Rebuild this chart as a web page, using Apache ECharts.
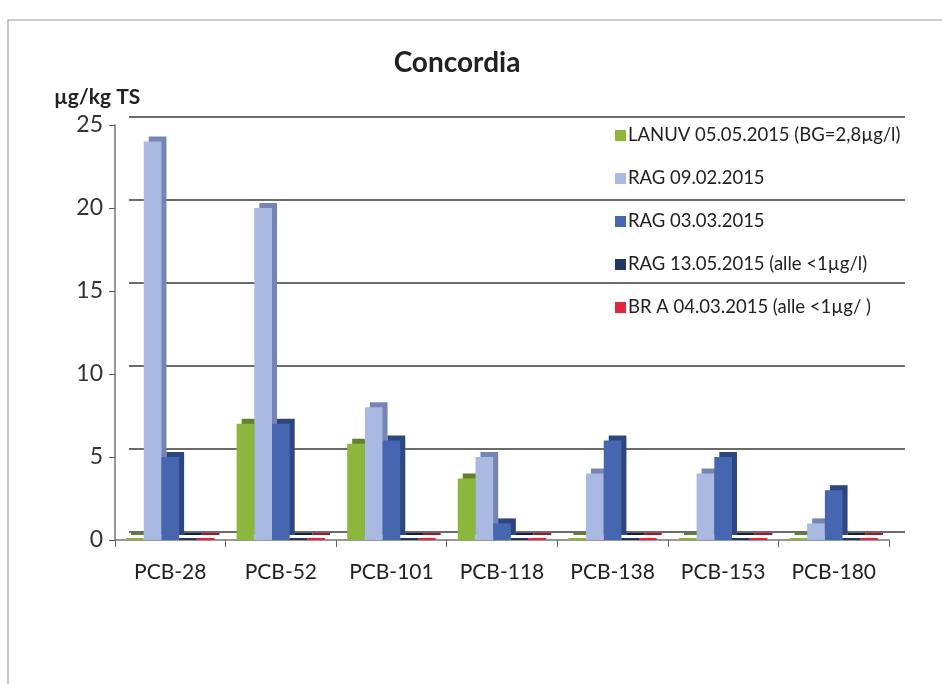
<!DOCTYPE html>
<html>
<head>
<meta charset="utf-8">
<title>Concordia</title>
<script src="https://cdn.jsdelivr.net/npm/echarts@6/dist/echarts.min.js"></script>
<style>
  html, body { margin: 0; padding: 0; background: #fff; }
  #chart { width: 942px; height: 684px; }
</style>
</head>
<body>
<div id="chart"></div>
<script>
// categories and values (µg/kg TS)
const categories = ['PCB-28', 'PCB-52', 'PCB-101', 'PCB-118', 'PCB-138', 'PCB-153', 'PCB-180'];
const seriesNames = [
  'LANUV 05.05.2015 (BG=2,8µg/l)',
  'RAG 09.02.2015',
  'RAG 03.03.2015',
  'RAG 13.05.2015 (alle <1µg/l)',
  'BR A 04.03.2015 (alle <1µg/ )'
];
const lanuv = [0, 7, 5.8, 3.7, 0, 0, 0];
const rag0902 = [24, 20, 8, 5, 4, 4, 1];
const rag0303 = [5, 7, 6, 1, 6, 5, 3];
const rag1305 = [0, 0, 0, 0, 0, 0, 0];
const brA = [0, 0, 0, 0, 0, 0, 0];
const yTicks = [0, 5, 10, 15, 20, 25];

const colors = ['#8cb63c', '#a9b9e2', '#4766b0', '#22375e', '#e0283c'];
const sideColors = ['#62822a', '#7585b3', '#2e4680', '#121f38', '#a0182a'];
const values = [lanuv, rag0902, rag0303, rag1305, brA];

const chart = echarts.init(document.getElementById('chart'));
chart.setOption({
  animation: false,
  textStyle: { fontFamily: 'Lato' },
  title: {
    text: 'Concordia',
    left: 452,
    top: 44,
    textAlign: 'center',
    textStyle: { fontSize: 28, fontWeight: 'bold', color: '#222', fontFamily: 'Lato' }
  },
  graphic: [
    {
      type: 'rect',
      shape: { x: 8, y: 20, width: 960, height: 700 },
      style: { fill: 'none', stroke: '#9a9a9a', lineWidth: 1.2 },
      z: -10
    },
    {
      type: 'text',
      left: 54,
      top: 87,
      style: { text: 'µg/kg TS', font: 'bold 21px Lato', fill: '#222' }
    }
  ],
  legend: {
    orient: 'vertical',
    left: 610,
    top: 121,
    itemWidth: 11,
    itemHeight: 11,
    itemGap: 24,
    icon: 'rect',
    data: seriesNames,
    textStyle: { fontSize: 18.5, color: '#222', fontFamily: 'Lato', padding: [0, 0, 0, -3] }
  },
  grid: [
    { left: 115, right: 53, top: 125, bottom: 144 },
    { left: 129, right: 37, top: 117, bottom: 152 }
  ],
  xAxis: [
    {
      type: 'category',
      gridIndex: 0,
      data: categories,
      axisLine: { lineStyle: { color: '#777', width: 1.5 } },
      axisTick: { show: true, length: 7, interval: 0, lineStyle: { color: '#666' } },
      axisLabel: { fontSize: 21, color: '#222', margin: 22, interval: 0 }
    },
    {
      type: 'category',
      gridIndex: 1,
      data: categories,
      show: false
    }
  ],
  yAxis: [
    {
      type: 'value',
      gridIndex: 0,
      min: 0,
      max: 25,
      interval: 5,
      axisLine: { show: true, lineStyle: { color: '#777', width: 1.5 } },
      axisTick: { show: true, length: 6, lineStyle: { color: '#555' } },
      axisLabel: {
        fontSize: 23,
        color: '#333',
        margin: 12,
        formatter: v => (yTicks.includes(v) ? String(v) : '')
      },
      splitLine: { show: false }
    },
    {
      type: 'value',
      gridIndex: 1,
      min: 0,
      max: 25,
      interval: 5,
      axisLine: { show: false },
      axisTick: { show: false },
      axisLabel: { show: false },
      splitLine: { show: true, lineStyle: { color: '#3a3a3a', width: 1.6 } }
    }
  ],
  series: seriesNames.map((name, i) => ({
    name: name,
    type: 'bar',
    xAxisIndex: 0,
    yAxisIndex: 0,
    data: values[i],
    barGap: '0%',
    barCategoryGap: '20%',
    barMinHeight: 2,
    itemStyle: {
      color: colors[i],
      // offset copy behind the bar gives a simple depth face like the original
      shadowColor: sideColors[i],
      shadowOffsetX: 5,
      shadowOffsetY: -5,
      shadowBlur: 0
    }
  }))
});
</script>
</body>
</html>
